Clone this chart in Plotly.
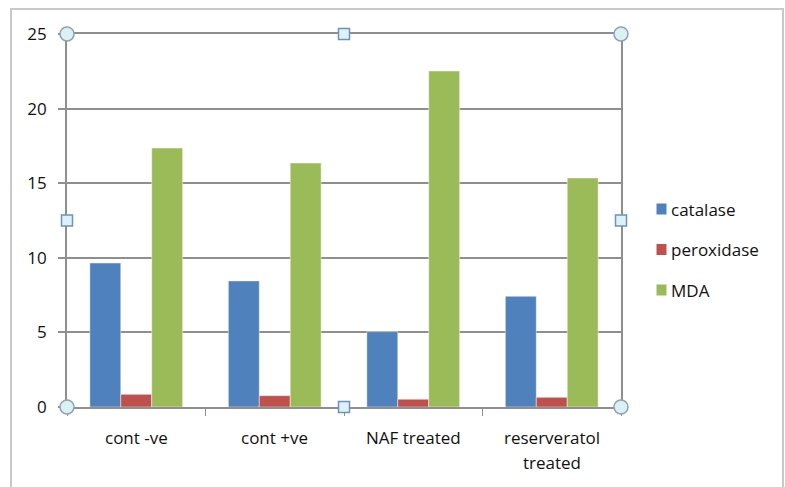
import plotly.graph_objects as go

# Groups and measured values
categories = ["cont -ve", "cont +ve", "NAF treated", "reserveratol treated"]
category_lines = [["cont -ve"], ["cont +ve"], ["NAF treated"], ["reserveratol", "treated"]]
catalase = [9.65, 8.45, 5.05, 7.42]
peroxidase = [0.85, 0.76, 0.52, 0.65]
mda = [17.36, 16.35, 22.52, 15.35]
y_ticks = [0, 5, 10, 15, 20, 25]

series_names = ["catalase", "peroxidase", "MDA"]
series_values = [catalase, peroxidase, mda]
series_colors = ["#4F81BD", "#C0504D", "#9BBB59"]

FONT = "Open Sans"
FS = 17
TXT = "#111111"
GRID = "#8f8f8f"

fig = go.Figure()
for name, vals, color in zip(series_names, series_values, series_colors):
    fig.add_trace(go.Bar(
        x=categories, y=vals, name=name,
        marker=dict(color=color, line=dict(color="rgba(255,255,255,0.45)", width=1)),
    ))

W, H = 785, 487
L, R, T, B = 67, 164, 34, 80
pw, ph = W - L - R, H - T - B


def px_x(p):
    return (p - L) / pw


def px_y(p):
    return (H - B - p) / ph


fig.update_layout(
    width=W, height=H,
    margin=dict(l=L, r=R, t=T, b=B, pad=0),
    paper_bgcolor="white", plot_bgcolor="white",
    barmode="group", bargap=0.33, bargroupgap=0,
    font=dict(family=FONT, size=FS, color=TXT),
    showlegend=False,
    xaxis=dict(
        type="category", range=[-0.5, 3.5],
        showline=True, linecolor=GRID, linewidth=1.6, mirror=True,
        ticks="outside", tickson="boundaries", ticklen=7, tickcolor=GRID, tickwidth=1.2,
        showgrid=False, showticklabels=False,
    ),
    yaxis=dict(
        range=[0, 25], tickvals=y_ticks,
        showline=True, linecolor=GRID, linewidth=1.6, mirror=True,
        showgrid=True, gridcolor=GRID, gridwidth=1.6,
        ticks="outside", ticklen=7, tickcolor=GRID, tickwidth=1.6,
        ticklabelstandoff=8, zeroline=False,
        tickfont=dict(family=FONT, size=FS, color=TXT),
    ),
)

annotations = []
# Category labels below the axis, with roomy line spacing
for cat, lines in zip(categories, category_lines):
    for i, line in enumerate(lines):
        annotations.append(dict(
            x=cat, xref="x", y=0, yref="paper", yanchor="middle",
            yshift=-(30 + 25 * i), text=line, showarrow=False,
            font=dict(family=FONT, size=FS, color=TXT),
        ))

# Legend: coloured squares with series names
legend_y = [209, 249.5, 290]
shapes = []
for name, color, ly in zip(series_names, series_colors, legend_y):
    shapes.append(dict(
        type="rect", xref="paper", yref="paper",
        xsizemode="pixel", ysizemode="pixel",
        xanchor=px_x(661.5), yanchor=px_y(ly),
        x0=-5, x1=5, y0=-5.5, y1=5.5,
        line=dict(width=0), fillcolor=color,
    ))
    annotations.append(dict(
        x=px_x(669), xref="paper", xanchor="left",
        y=px_y(ly), yref="paper", yanchor="middle",
        text=name, showarrow=False,
        font=dict(family=FONT, size=FS, color=TXT),
    ))

# Outer chart border
shapes.append(dict(
    type="rect", xref="paper", yref="paper",
    x0=px_x(11), x1=px_x(783), y0=px_y(492), y1=px_y(9),
    line=dict(color="#c9c9c9", width=2), fillcolor="rgba(0,0,0,0)", layer="below",
))

# Selection handles around the plot area
for hx, hy in [(0, 0), (1, 0), (0, 1), (1, 1)]:
    shapes.append(dict(
        type="circle", xref="paper", yref="paper",
        xsizemode="pixel", ysizemode="pixel", xanchor=hx, yanchor=hy,
        x0=-7, x1=7, y0=-7, y1=7,
        line=dict(color="#8fa2ad", width=1.5), fillcolor="#d9f0f4",
    ))
for hx, hy in [(0.5, 0), (0.5, 1), (0, 0.5), (1, 0.5)]:
    shapes.append(dict(
        type="rect", xref="paper", yref="paper",
        xsizemode="pixel", ysizemode="pixel", xanchor=hx, yanchor=hy,
        x0=-5.5, x1=5.5, y0=-5.5, y1=5.5,
        line=dict(color="#6f93b6", width=1.5), fillcolor="#dcf1f9",
    ))

fig.update_layout(shapes=shapes, annotations=annotations)

fig.write_html("out.html")
